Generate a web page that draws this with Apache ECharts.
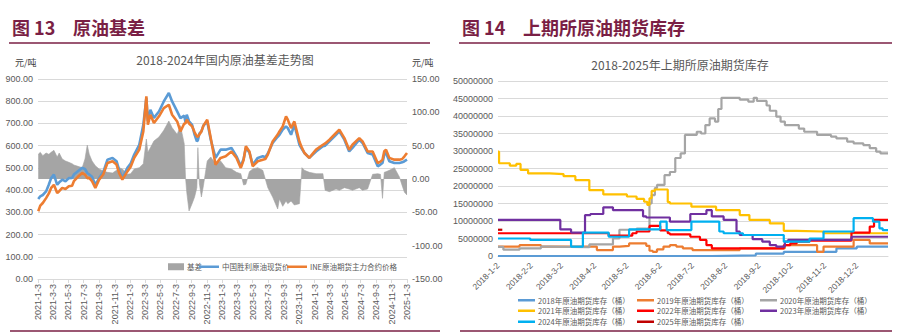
<!DOCTYPE html>
<html><head><meta charset="utf-8">
<script src="https://cdn.jsdelivr.net/npm/echarts@6/dist/echarts.min.js"></script>
<style>html,body{margin:0;padding:0;background:#fff}#c{width:905px;height:333px}</style>
</head><body><div id="c"></div>
<script>
// ---------- Figure 13: crude basis ----------
const basisDates = ['2021-01-04','2021-01-12','2021-01-22','2021-02-04','2021-02-15','2021-02-24','2021-03-07','2021-03-20','2021-03-28','2021-04-09','2021-04-22','2021-05-05','2021-05-18','2021-05-25','2021-06-10','2021-06-27','2021-07-08','2021-07-17','2021-07-25','2021-08-05','2021-08-18','2021-09-02','2021-09-18','2021-10-05','2021-10-25','2021-11-10','2021-11-20','2021-12-03','2021-12-23','2022-01-05','2022-01-19','2022-02-08','2022-02-24','2022-03-08','2022-03-14','2022-03-24','2022-04-07','2022-04-27','2022-05-16','2022-06-05','2022-06-18','2022-07-08','2022-07-21','2022-08-05','2022-08-10','2022-08-15','2022-08-24','2022-09-05','2022-09-15','2022-09-24','2022-09-28','2022-10-04','2022-10-12','2022-10-20','2022-11-04','2022-11-18','2022-12-07','2022-12-27','2023-01-16','2023-02-08','2023-02-28','2023-03-17','2023-03-28','2023-04-06','2023-04-20','2023-05-03','2023-05-23','2023-06-12','2023-06-22','2023-07-02','2023-07-21','2023-08-10','2023-08-17','2023-08-30','2023-09-12','2023-09-19','2023-10-02','2023-10-15','2023-11-04','2023-11-14','2023-11-24','2023-12-13','2024-01-09','2024-02-05','2024-02-14','2024-03-02','2024-03-28','2024-04-10','2024-04-30','2024-05-19','2024-06-01','2024-06-28','2024-07-11','2024-07-31','2024-08-20','2024-09-09','2024-09-20','2024-09-28','2024-10-05','2024-10-12','2024-10-25','2024-11-14','2024-12-04','2024-12-15','2024-12-24','2025-01-03'];
const spotPrice = [360,372,378,394,425,454,470,424,435,447,440,454,455,470,485,500,495,477,470,460,424,454,480,537,545,530,492,454,500,520,560,604,694,815,710,762,725,754,799,837,799,754,724,735,705,739,710,694,650,619,625,655,664,690,709,627,545,582,582,590,552,507,540,590,570,514,545,552,548,565,612,640,649,672,687,679,649,694,604,585,567,545,574,597,600,619,649,664,627,574,590,627,612,567,560,507,515,522,560,567,530,522,522,525,530,537];
const inePrice = [305,330,342,364,385,410,424,387,395,410,405,417,420,440,460,477,470,454,455,440,410,447,470,522,530,515,477,447,484,505,545,582,664,822,694,739,702,732,769,784,739,709,664,700,700,717,700,687,660,642,640,650,664,690,717,634,514,545,552,574,545,500,535,597,574,507,530,537,540,560,619,650,664,687,732,717,679,709,619,590,567,545,582,604,610,627,657,672,634,582,604,634,619,574,574,522,528,537,575,582,545,537,537,540,552,567];
const basisValue = [37,40,35,39,37,40,43,33,39,30,27,25,23,21,19,17,30,51,37,27,20,15,12,10,9,13,17,15,7,8,15,17,23,60,40,47,57,63,73,87,77,67,80,53,3,-20,-48,-37,-27,-13,47,-7,-27,-10,27,33,23,27,17,15,10,8,-9,-8,11,15,17,13,0,-13,-27,-45,-30,-41,-33,-37,-33,-39,-37,17,13,10,8,8,-17,-19,-15,-17,-13,-15,-17,-13,-17,-15,7,8,7,-29,10,11,13,17,3,-10,-20,-24];
const leftXLabels = ['2021-1-3','2021-3-3','2021-5-3','2021-7-3','2021-9-3','2021-11-3','2022-1-3','2022-3-3','2022-5-3','2022-7-3','2022-9-3','2022-11-3','2023-1-3','2023-3-3','2023-5-3','2023-7-3','2023-9-3','2023-11-3','2024-1-3','2024-3-3','2024-5-3','2024-7-3','2024-9-3','2024-11-3','2025-1-3'];
const leftNames = ['基差','中国胜利原油现货价','INE原油期货主力合约价格'];

// ---------- Figure 14: INE crude futures inventory (million barrels) ----------
const invNames = ['2018年原油期货库存（桶）','2019年原油期货库存（桶）','2020年原油期货库存（桶）','2021年原油期货库存（桶）','2022年原油期货库存（桶）','2023年原油期货库存（桶）','2024年原油期货库存（桶）','2025年原油期货库存（桶）'];
const inv2018 = [['1-2',0],['7-20',0.2],['8-30',0.7],['9-25',1.2],['11-13',2.2],['12-2',2.7],['12-31',2.8]];
const inv2019 = [['1-2',2.7],['1-22',3.1],['2-11',2.7],['4-4',1.7],['4-19',2.7],['4-25',2.9],['5-4',3.6],['5-20',2.9],['5-23',1.5],['5-26',1.2],['5-30',1.9],['6-5',2.7],['6-11',3.1],['6-17',2.7],['6-23',2.2],['7-2',1.7],['8-15',2.2],['9-26',3.1],['10-26',1.2],['11-1',2.7],['11-29',4.6],['12-14',3.6],['12-31',3.6]];
const inv2020 = [['1-2',2.6],['1-7',1.8],['1-22',2.2],['2-11',2.7],['2-19',2.5],['3-28',3.3],['4-19',5.0],['4-25',7.5],['5-11',7.8],['5-20',8.0],['5-23',15.0],['5-25',17.4],['5-28',19.4],['5-30',20.3],['6-6',23.1],['6-11',24.0],['6-16',28.0],['6-21',29.3],['6-25',34.6],['7-6',35.5],['7-10',35.0],['7-14',37.4],['7-18',39.3],['7-23',38.4],['7-26',42.0],['7-29',45.2],['8-15',44.7],['8-23',44.1],['8-28',45.2],['8-31',44.3],['9-9',43.0],['9-12',41.5],['9-18',39.8],['9-22',38.4],['9-26',37.4],['10-9',36.4],['10-14',35.5],['10-26',34.6],['11-8',34.1],['11-13',33.6],['11-23',32.7],['11-29',32.2],['12-8',31.7],['12-14',30.8],['12-20',29.8],['12-24',29.3],['12-31',29.3]];
const inv2021 = [['1-2',29.8],['1-3',26.5],['1-13',25.8],['1-19',26.3],['1-23',24.6],['1-30',23.6],['2-19',23.4],['3-4',22.8],['3-15',21.7],['3-28',18.8],['4-10',17.6],['5-2',17.0],['5-11',16.3],['5-18',15.5],['5-21',14.6],['5-23',16.5],['5-25',18.6],['5-28',19.0],['6-9',15.4],['6-11',15.0],['7-1',14.1],['7-24',13.1],['8-15',11.7],['8-24',10.3],['9-12',9.3],['9-25',7.2],['10-7',7.0],['11-1',6.5],['12-31',6.5]];
const inv2022 = [['1-2',6.5],['4-15',5.8],['5-7',6.5],['5-11',7.0],['5-23',8.6],['6-2',7.3],['6-9',6.5],['6-11',6.2],['6-30',5.5],['7-9',4.6],['7-15',3.1],['7-20',2.2],['9-25',3.1],['10-1',3.6],['10-7',4.1],['10-19',4.4],['11-27',6.7],['12-14',8.4],['12-18',10.3],['12-31',10.3]];
const inv2023 = [['1-2',10.3],['3-1',7.6],['3-11',6.7],['3-24',11.7],['3-29',12.0],['4-10',13.9],['4-19',13.1],['5-17',11.3],['5-20',11.0],['6-11',9.8],['6-30',12.0],['7-15',13.1],['7-20',11.3],['7-31',10.3],['8-12',7.0],['8-15',6.0],['8-27',4.8],['9-5',4.1],['9-12',3.1],['9-18',2.7],['9-26',4.1],['9-29',4.6],['11-27',5.5],['12-31',5.5]];
const inv2024 = [['1-2',5.0],['2-1',4.6],['3-11',2.7],['3-22',6.7],['4-15',5.5],['5-4',7.6],['6-2',9.8],['6-8',7.4],['7-1',9.8],['7-27',7.0],['7-31',6.5],['8-18',6.0],['9-25',4.1],['10-19',5.0],['11-1',7.0],['11-29',10.8],['12-17',9.8],['12-23',7.9],['12-26',7.4],['12-31',7.4]];
const inv2025 = [['1-2',7.5],['1-6',7.5]];
const invSeries = [inv2018,inv2019,inv2020,inv2021,inv2022,inv2023,inv2024,inv2025];
const invColors = ['#5B9BD5','#ED7D31','#A5A5A5','#FFC000','#FF0000','#7030A0','#00B0F0','#C00000'];
const rightXLabels = ['2018-1-2','2018-2-2','2018-3-2','2018-4-2','2018-5-2','2018-6-2','2018-7-2','2018-8-2','2018-9-2','2018-10-2','2018-11-2','2018-12-2'];

// ---------- helpers ----------
const DAY = 86400000;
function leftDay(s){const [y,m,d]=s.split('-').map(Number);return (Date.UTC(y,m-1,d)-Date.UTC(2021,0,3))/DAY;}
function rightDay(s){const p=s.split('-').map(Number);const m=p.length===3?p[1]:p[0];const d=p.length===3?p[2]:p[1];return (Date.UTC(2018,m-1,d)-Date.UTC(2018,0,2))/DAY;}
const leftTickVals = leftXLabels.map(leftDay);
const leftLabelMap = {}; leftXLabels.forEach(s=>leftLabelMap[leftDay(s)]=s);
const rightTickVals = rightXLabels.map(rightDay);
const rightLabelMap = {}; rightXLabels.forEach(s=>rightLabelMap[rightDay(s)]=s);

const NUM = '"Liberation Sans Narrow","Liberation Sans",Arial,sans-serif';
const CJK = '"Noto Sans CJK SC","Noto Sans",sans-serif';
const TXT = '#595959';
const MAROON = '#7a1f45';

const series = [
  {name:leftNames[0],type:'line',xAxisIndex:0,yAxisIndex:1,symbol:'none',z:1,
   data:basisDates.map((d,i)=>[leftDay(d),basisValue[i]]),
   itemStyle:{color:'#A5A5A5'},lineStyle:{color:'#A5A5A5',width:0.6},areaStyle:{color:'#A5A5A5',opacity:1,origin:0}},
  {name:leftNames[1],type:'line',xAxisIndex:0,yAxisIndex:0,symbol:'none',z:2,
   data:basisDates.map((d,i)=>[leftDay(d),spotPrice[i]]),
   itemStyle:{color:'#5B9BD5'},lineStyle:{color:'#5B9BD5',width:2.6}},
  {name:leftNames[2],type:'line',xAxisIndex:0,yAxisIndex:0,symbol:'none',z:3,
   data:basisDates.map((d,i)=>[leftDay(d),inePrice[i]]),
   itemStyle:{color:'#ED7D31'},lineStyle:{color:'#ED7D31',width:2.6}}
];
invSeries.forEach((arr,k)=>{
  series.push({name:invNames[k],type:'line',xAxisIndex:1,yAxisIndex:2,symbol:'none',step:'end',
    data:arr.map(p=>[rightDay(p[0]),p[1]]),
    itemStyle:{color:invColors[k]},lineStyle:{color:invColors[k],width:2.2}});
});

const legends = [];
const leftLegPos = [[163,16,7],[194,20,2.5],[282,20,2.5]];
leftNames.forEach((n,i)=>{
  legends.push({left:leftLegPos[i][0],top:258,itemWidth:leftLegPos[i][1],itemHeight:leftLegPos[i][2],itemGap:0,selectedMode:false,
    data:[{name:n,icon:'rect'}],textStyle:{fontSize:7.5,color:TXT,fontFamily:CJK,padding:[0,0,0,-2]}});
});
const colX=[513,632,755], rowY=[291.5,302,313];
invNames.forEach((n,k)=>{
  legends.push({left:colX[k%3],top:rowY[Math.floor(k/3)],itemWidth:17,itemHeight:2.5,itemGap:0,selectedMode:false,
    data:[{name:n,icon:'rect'}],textStyle:{fontSize:7.5,color:TXT,fontFamily:CJK,padding:[0,0,0,-2]}});
});

function txt(x,y,text,font,fill,align){return {type:'text',silent:true,style:{x:x,y:y,text:text,font:font,fill:fill,textAlign:align||'left',textVerticalAlign:'middle',align:align||'left',verticalAlign:'middle'}};}
function ln(x1,y1,x2,y2){return {type:'line',silent:true,shape:{x1:x1,y1:y1,x2:x2,y2:y2},style:{stroke:MAROON,lineWidth:1.5}};}

const option = {
  animation:false,
  backgroundColor:'#fff',
  grid:[{left:38,top:79,width:369,height:200},{left:498,top:81,width:390,height:175}],
  xAxis:[
    {type:'value',gridIndex:0,min:0,max:leftDay('2025-1-3'),splitLine:{show:false},
     axisLine:{show:true,lineStyle:{color:'#d9d9d9'}},
     axisTick:{show:true,customValues:leftTickVals,length:4,lineStyle:{color:'#d9d9d9'}},
     axisLabel:{customValues:leftTickVals,rotate:90,margin:5,fontSize:9,color:TXT,fontFamily:'"Liberation Sans",Arial,sans-serif',
       formatter:v=>leftLabelMap[v]||''}},
    {type:'value',gridIndex:1,min:0,max:rightDay('12-31'),splitLine:{show:false},
     axisLine:{show:true,lineStyle:{color:'#d9d9d9'}},
     axisTick:{show:false},
     axisLabel:{customValues:rightTickVals,rotate:45,margin:8,fontSize:8.5,color:TXT,fontFamily:NUM,
       formatter:v=>rightLabelMap[v]||''}}
  ],
  yAxis:[
    {type:'value',gridIndex:0,min:0,max:900,interval:100,position:'left',
     axisLine:{show:false},axisTick:{show:false},
     splitLine:{lineStyle:{color:'#d9d9d9'}},
     axisLabel:{margin:5,fontSize:9,color:TXT,fontFamily:NUM,formatter:v=>v.toFixed(2)}},
    {type:'value',gridIndex:0,min:-150,max:150,interval:50,position:'right',
     axisLine:{show:false},axisTick:{show:false},splitLine:{show:false},
     axisLabel:{margin:5,fontSize:9,color:TXT,fontFamily:NUM,formatter:v=>v.toFixed(2)}},
    {type:'value',gridIndex:1,min:0,max:50,interval:5,
     axisLine:{show:false},axisTick:{show:false},
     splitLine:{lineStyle:{color:'#d9d9d9'}},
     axisLabel:{margin:5,fontSize:9,color:TXT,fontFamily:NUM,formatter:v=>String(Math.round(v*1000000))}}
  ],
  legend:legends,
  series:series,
  graphic:[
    txt(12,27,'图 13','bold 18px '+CJK,MAROON),
    txt(73,27,'原油基差','bold 18px '+CJK,MAROON),
    ln(9,43,430,43),
    txt(462,27,'图 14','bold 18px '+CJK,MAROON),
    txt(523,27,'上期所原油期货库存','bold 18px '+CJK,MAROON),
    ln(459,43,892,43),
    txt(225,59,'2018-2024年国内原油基差走势图','12px '+CJK,TXT,'center'),
    txt(680,64,'2018-2025年上期所原油期货库存','12px '+CJK,TXT,'center'),
    txt(15,62,'元/吨','9px '+CJK,'#404040'),
    txt(412,62,'元/吨','9px '+CJK,'#404040'),
    ln(10,331,440,331),
    ln(460,331,892,331)
  ]
};
const chart = echarts.init(document.getElementById('c'),null,{renderer:'svg',width:905,height:333});
chart.setOption(option);
</script></body></html>
